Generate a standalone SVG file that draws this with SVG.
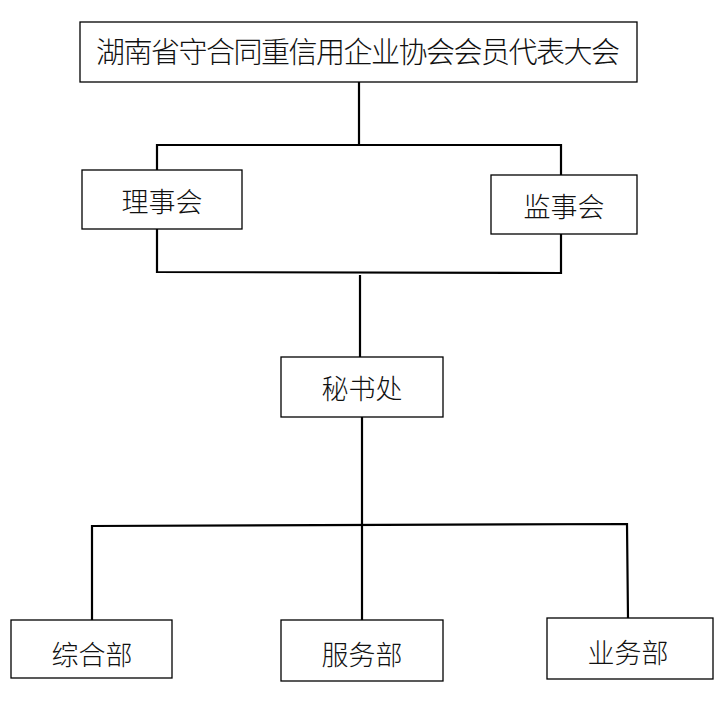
<svg xmlns="http://www.w3.org/2000/svg" width="721" height="709" viewBox="0 0 721 709">
<style>
.box{fill:#fff;stroke:#000;stroke-width:1.3}
.t{font-family:"Noto Sans CJK SC","Noto Sans CJK JP",sans-serif;font-size:27px;fill:#111;text-anchor:middle;dominant-baseline:central;font-weight:300}
.c{fill:none;stroke:#000;stroke-width:2.2}
</style>
<rect width="721" height="709" fill="#fff"/>
<g id="connectors">
<polyline class="c" points="359,82 359,145"/>
<polyline class="c" points="157,170 157,145 561,145 561,175"/>
<polyline class="c" points="157,229 157,272 561,273 561,234"/>
<polyline class="c" points="360,275 360,357"/>
<polyline class="c" points="362,417 362,620"/>
<polyline class="c" points="92,620 92,526 627,524 628,618"/>
</g>
<g id="n0"><rect class="box" x="80" y="22" width="557" height="60"/><text class="t" x="358" y="50" textLength="524" lengthAdjust="spacing" style="font-size:29px">湖南省守合同重信用企业协会会员代表大会</text></g>
<g id="n1"><rect class="box" x="82" y="170" width="160" height="59"/><text class="t" x="162" y="200">理事会</text></g>
<g id="n2"><rect class="box" x="491" y="175" width="146" height="59"/><text class="t" x="564" y="205">监事会</text></g>
<g id="n3"><rect class="box" x="281" y="357" width="162" height="60"/><text class="t" x="362" y="387">秘书处</text></g>
<g id="n4"><rect class="box" x="11" y="620" width="161" height="58"/><text class="t" x="92" y="653">综合部</text></g>
<g id="n5"><rect class="box" x="281" y="620" width="162" height="61"/><text class="t" x="362" y="653">服务部</text></g>
<g id="n6"><rect class="box" x="547" y="618" width="166" height="61"/><text class="t" x="628" y="651">业务部</text></g>
</svg>
